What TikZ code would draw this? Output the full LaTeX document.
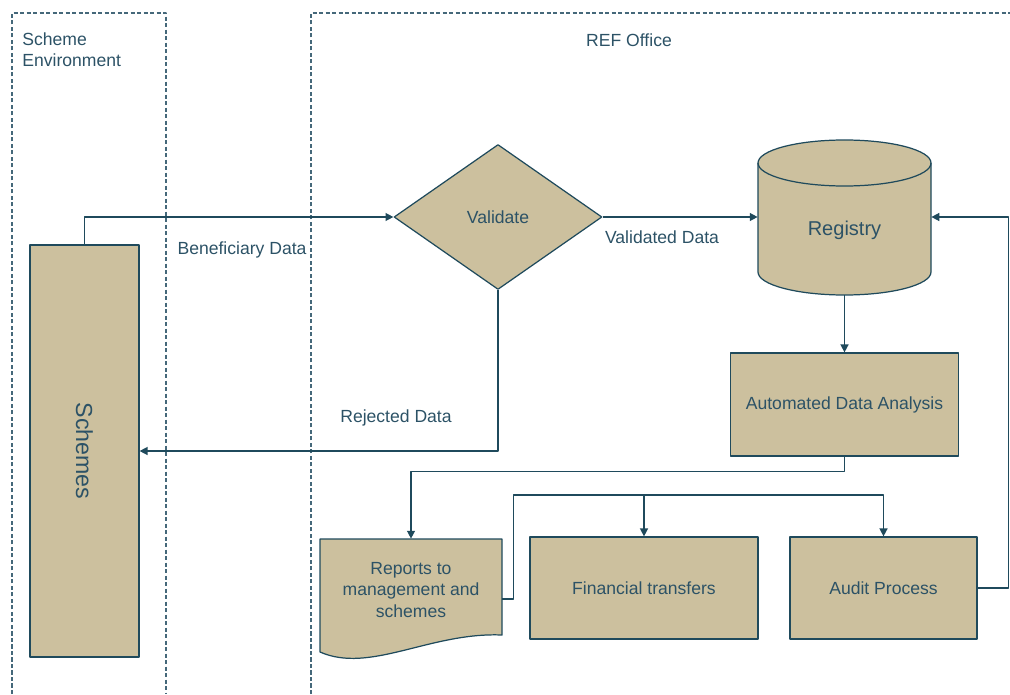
\documentclass[tikz,border=0pt]{standalone}
\usepackage{fontspec}
\setmainfont{Liberation Sans}
\usetikzlibrary{arrows.meta,shapes.geometric,calc}

\definecolor{linecol}{HTML}{1F4A5C}
\definecolor{txtcol}{HTML}{2C5266}
\definecolor{boxcol}{HTML}{CCC09E}
\definecolor{lanecol}{HTML}{45687A}

\tikzset{
  box/.style={draw=linecol,fill=boxcol,line width=0.7pt,text=txtcol,inner sep=0pt,align=center,font=\fontsize{10}{12}\selectfont},
  lbl/.style={text=txtcol,inner sep=0pt,font=\fontsize{10}{12}\selectfont},
  conn/.style={draw=linecol,line width=0.8pt},
  arr/.style={conn,-{Triangle[length=4.5pt,width=4.5pt]}},
  lane/.style={draw=lanecol,line width=0.6pt,dash pattern=on 2.4pt off 1.3pt}
}

\begin{document}
\begin{tikzpicture}[x=0.02cm,y=0.02cm,line join=round]
  \useasboundingbox (0,0) rectangle (1010,694);
  % swim lanes
  \draw[lane] (12,0) -- (12,681) -- (166,681) -- (166,0);
  \draw[lane] (311,0) -- (311,681) -- (1012,681);
  \node[lbl,anchor=west,align=left] (envlbl) at (22,644) {Scheme\\Environment};
  \node[lbl] (reflbl) at (629,654) {REF Office};

  % shapes
  \node[box,minimum width=2.18cm,minimum height=8.24cm] (sch) at (84.5,243) {};
  \node[text=txtcol,rotate=-90,font=\fontsize{13.2}{15}\selectfont] (schtext) at (sch.center) {Schemes};
  \node[box,diamond,minimum width=4.16cm,minimum height=2.9cm] (val) at (498,477) {Validate};

  \draw[box] (758,531) -- (758,422) arc[start angle=180,end angle=360,x radius=86.5,y radius=23]
    -- (931,531) arc[start angle=0,end angle=180,x radius=86.5,y radius=23] -- cycle;
  \draw[box,fill=none] (758,531) arc[start angle=180,end angle=360,x radius=86.5,y radius=23];
  \node[minimum width=3.46cm,minimum height=3.1cm,inner sep=0pt] (reg) at (844.5,477) {};
  \node[text=txtcol,font=\fontsize{11.4}{14}\selectfont] (regtext) at (844.5,464) {Registry};

  \node[box,minimum width=4.56cm,minimum height=2.06cm] (ada) at (844.5,289.5) {Automated Data Analysis};

  \draw[box] (320,155) -- (502,155) -- (502,59) .. controls (430,62) and (370,20) .. (320,42) -- cycle;
  \node[lbl,align=center,minimum width=3.64cm,minimum height=2.04cm] (rep) at (411,104) {Reports to\\management and\\schemes};

  \node[box,minimum width=4.56cm,minimum height=2.04cm] (fin) at (644,106) {Financial transfers};
  \node[box,minimum width=3.74cm,minimum height=2.04cm] (aud) at (883.5,106) {Audit Process};

  % connectors
  \draw[arr] (sch.north) |- (val.west);
  \node[lbl] (benlbl) at (242,444) {Beneficiary Data};
  \draw[arr] (val.east) -- (reg.west);
  \node[lbl] (vallbl) at (662,457) {Validated Data};
  \draw[arr] (val.south) |- (sch.east);
  \node[lbl] (rejlbl) at (396,276) {Rejected Data};
  \draw[arr] (reg.south) -- (ada.north);
  \draw[arr] (ada.south) -- ++(0,-15) -| (rep.north);
  \coordinate (repout) at ($(rep.east)+(0,-9)$);
  \coordinate (bus) at (0,199);
  \draw[arr] (repout) -- ++(11,0) |- (aud.north |- bus) -- (aud.north);
  \draw[arr] (fin.north |- bus) -- (fin.north);
  \draw[arr] (aud.east) -- ++(31,0) |- (reg.east);
\end{tikzpicture}
\end{document}
